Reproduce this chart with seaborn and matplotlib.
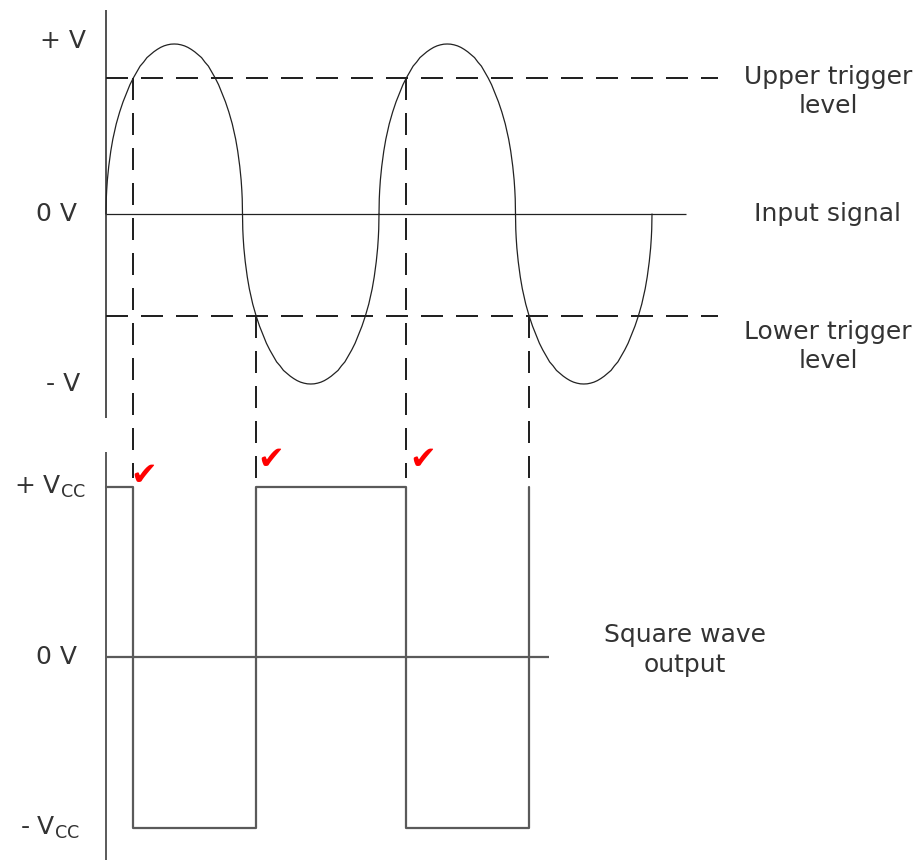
import seaborn as sns
import matplotlib.pyplot as plt

# input signal (top panel): each half cycle has the same rounded shape,
# read off the picture as (fraction of the half cycle, level in units of V)
half_frac = [0, .002, .005, .01, .02, .035, .05, .075, .1, .125, .15, .175, .2, .225, .25, .275, .3, .325,
             .35, .375, .4, .425, .45, .475, .5,
             .525, .55, .575, .6, .625, .65, .675, .7, .725, .75, .775, .8, .825, .85, .875, .9, .925, .95,
             .965, .98, .99, .995, .998, 1]
half_level = [0, .09, .14, .20, .28, .37, .44, .53, .60, .66, .71, .76, .80, .835, .87, .893, .92, .937,
              .954, .968, .98, .989, .995, .999, 1,
              .999, .995, .989, .98, .968, .954, .937, .92, .893, .87, .835, .80, .76, .71, .66, .60, .53, .44,
              .37, .28, .20, .14, .09, 0]
zero_crossings = [106, 242.5, 379, 515.5, 652]
half_sign = [1, -1, 1, -1]

upper_trigger = 0.8
lower_trigger = -0.6
switch_x = [133, 256, 406, 529]
switch_level = [upper_trigger, lower_trigger, upper_trigger, lower_trigger]

# square wave output (bottom panel), level in units of Vcc
square_x = [106, 133, 133, 256, 256, 406, 406, 529, 529]
square_v = [1, 1, -1, -1, 1, 1, -1, -1, 1]

top_labels = ["+ V", "0 V", "- V"]
top_label_v = [1.02, 0, -1]
bot_labels = ["+ V$_{\\mathregular{CC}}$", "0 V", "- V$_{\\mathregular{CC}}$"]
bot_label_v = [1, 0, -1]

sns.set_style("white")
plt.rcParams['font.family'] = ['DejaVu Sans']
plt.rcParams['mathtext.fontset'] = 'dejavusans'

fig = plt.figure(figsize=(9.23, 8.6), dpi=100)
ax_top = fig.add_axes([0, 0, 1, 1])
ax_bot = fig.add_axes([0, 0, 1, 1])
ax_bot.patch.set_visible(False)
ax_top.set_xlim(0, 923)
ax_bot.set_xlim(0, 923)
ax_top.set_ylim((214 - 860) / 170, 214 / 170)
ax_bot.set_ylim((657 - 860) / 170.5, 657 / 170.5)
ax_top.axis("off")
ax_bot.axis("off")

ink = "#222222"
txt = "#333333"
grey = "#5a5a5a"

# top panel frame
ax_top.vlines(106, -1.2, 1.2, color=ink, lw=1.1)
ax_top.hlines(0, 106, 686, color=ink, lw=0.9)
for lvl in [upper_trigger, lower_trigger]:
    ax_top.plot([106, 718], [lvl, lvl], color=ink, lw=1.44, dashes=(11, 6.5))

# the input wave, half cycle by half cycle
for i, sgn in enumerate(half_sign):
    x0, x1 = zero_crossings[i], zero_crossings[i + 1]
    xs = [x0 + f * (x1 - x0) for f in half_frac]
    ys = [sgn * v for v in half_level]
    sns.lineplot(x=xs, y=ys, sort=False, estimator=None, color=ink, lw=0.9, ax=ax_top)

# dashed drop lines from trigger crossings into the output panel
for xs, lvl in zip(switch_x, switch_level):
    ax_top.plot([xs, xs], [lvl, -1.55], color=ink, lw=1.44, dashes=(11, 6.5))

# bottom panel
ax_bot.vlines(106, -1.2, 1.2, color=grey, lw=1.4)
ax_bot.hlines(0, 106, 549, color=grey, lw=1.6)
sns.lineplot(x=square_x, y=square_v, sort=False, estimator=None, color=grey, lw=1.6, ax=ax_bot)

for s, v, xc in zip(top_labels, top_label_v, [63, 57, 63]):
    ax_top.text(xc, v, s, ha="center", va="center", fontsize=18, color=txt)
for s, v, xc in zip(bot_labels, bot_label_v, [50, 57, 50]):
    ax_bot.text(xc, v, s, ha="center", va="center", fontsize=18, color=txt)

ax_top.text(828, 0.72, "Upper trigger\nlevel", ha="center", va="center", fontsize=18, color=txt, linespacing=1.3)
ax_top.text(828, 0, "Input signal", ha="center", va="center", fontsize=18, color=txt)
ax_top.text(828, -0.78, "Lower trigger\nlevel", ha="center", va="center", fontsize=18, color=txt, linespacing=1.3)
ax_bot.text(685, 0.04, "Square wave\noutput", ha="center", va="center", fontsize=18, color=txt, linespacing=1.3)

# red tick marks at the switching points
for xc, py in zip([144, 271, 423], [476, 461, 461]):
    ax_bot.text(xc, (657 - py) / 170.5, "\u2714", ha="center", va="center", fontsize=23, color="red")

fig.savefig("out.png", dpi=100)
